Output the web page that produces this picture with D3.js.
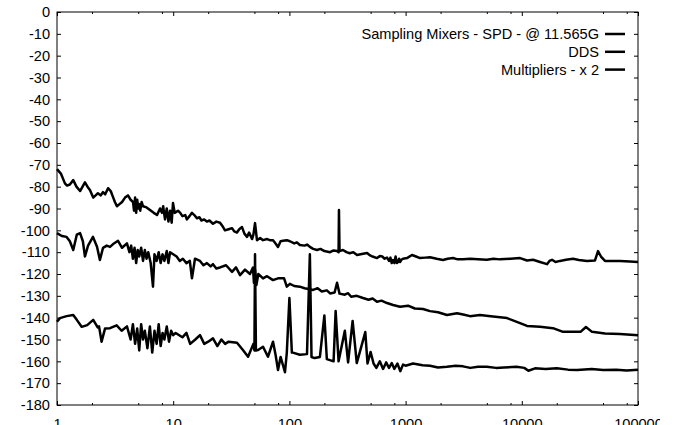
<!DOCTYPE html>
<html>
<head>
<meta charset="utf-8">
<script src="https://cdn.jsdelivr.net/npm/d3@7"></script>
<style>
  body { margin: 0; background: #fff; }
  svg text { font-family: "Liberation Sans", Arial, sans-serif; font-size: 14.6px; fill: #000; }
</style>
</head>
<body>
<svg id="chart" width="675" height="425"></svg>
<script>
// series names, top to bottom in the legend
const seriesNames = ['Sampling Mixers - SPD - @ 11.565G', 'DDS', 'Multipliers - x 2'];

// Sampling Mixers - offset frequency (Hz) and phase noise (dBc/Hz), row by row
const freqMixers = [
  1, 1.08, 1.17, 1.22, 1.29, 1.38, 1.47, 1.58, 1.66, 1.74,
  1.83, 1.92, 2.05, 2.15, 2.25, 2.37, 2.49, 2.6, 2.75, 2.9,
  3.03, 3.15, 3.28, 3.45, 3.63, 3.85, 4.08, 4.3, 4.51, 4.6,
  4.7, 4.8, 4.9, 5.0, 5.1, 5.2, 5.35, 5.5, 5.9, 6.31,
  6.8, 7.26, 7.7, 8.0, 8.2, 8.5, 8.8, 9.1, 9.4, 9.7,
  9.96, 10.3, 11, 11.5, 12, 12.7, 13.1, 13.8, 14.5, 15.2,
  16.0, 16.8, 17.5, 18.5, 19.5, 20.5, 22.0, 23.5, 25.3, 26.5,
  27.9, 30, 32.1, 33.5, 35.4, 37, 39.1, 41, 43.2, 45,
  47.7, 49, 50.6, 52.6, 56, 59.3, 64.2, 68, 72.3, 76,
  79.8, 84, 88.1, 95, 101, 110, 116, 123, 135, 142,
  150, 160, 173, 185, 200, 224, 240, 257, 265, 267,
  270, 289, 310, 330, 355, 382, 420, 466, 495, 520,
  567, 600, 630, 660, 692, 720, 740, 760, 780, 800,
  820, 840, 860, 880, 896, 920, 950, 1028, 1135, 1230,
  1330, 1480, 1622, 1850, 2099, 2300, 2560, 2800, 3120, 3600,
  4200, 5000, 5700, 6490, 8000, 9660, 11090, 12500, 14350, 16480,
  17300, 18200, 19500, 21330, 24000, 27610, 31000, 36400, 42650, 45290,
  48000, 52000, 60000, 70000, 85000, 100000];
const dbMixers = [
  -72, -74, -78.5, -79.5, -79, -77, -80, -82, -80, -78,
  -80, -81.5, -85, -84, -83, -84, -82.5, -83.5, -80.7, -82,
  -84.7, -87, -89, -88, -87, -85, -84, -86, -87, -91,
  -85, -92, -86, -90, -88, -91, -87, -89, -89.5, -90.7,
  -92, -93, -90, -92, -89, -95, -90, -96, -91, -96.5,
  -87.5, -92, -91, -92, -93.5, -93, -95, -93.5, -92, -93,
  -94.5, -94, -95.5, -95, -96, -95.5, -97, -96, -96.5, -98,
  -100, -99.5, -99, -100.5, -101, -99.5, -98.5, -101.5, -103, -101,
  -104, -102, -96.7, -104.5, -103.5, -104.5, -104, -104.5, -104.5, -106,
  -107.6, -105, -104.8, -104.5, -105, -106, -105.5, -106.7, -107, -106.5,
  -107.6, -108.5, -109, -108.5, -109.5, -110, -109.2, -109.5, -110, -90.7,
  -109.5, -109, -110, -110.5, -110, -111.3, -110.8, -110.4, -111.5, -112,
  -112.7, -111.8, -112, -113, -112.5, -114, -112.5, -115, -113.6, -115,
  -112, -115, -114.5, -113, -114.5, -113.5, -113, -112.7, -111.3, -112,
  -112.7, -112.5, -112.3, -113, -113.6, -113, -112.7, -113.3, -113.2, -113,
  -113.2, -113.5, -113, -113.3, -113, -112.7, -113.8, -113.5, -114.5, -115.5,
  -114, -113.5, -114.5, -114, -113.5, -113, -113.6, -114, -113.8, -109.5,
  -112, -114, -114, -114, -114.3, -114.5];

// DDS
const freqDDS = [
  1, 1.1, 1.21, 1.29, 1.38, 1.48, 1.58, 1.67, 1.74, 1.85,
  2.04, 2.21, 2.34, 2.49, 2.68, 2.86, 3.09, 3.35, 3.63, 4.0,
  4.2, 4.35, 4.5, 4.65, 4.8, 4.95, 5.1, 5.3, 5.5, 5.7,
  5.9, 6.1, 6.4, 6.7, 6.9, 7.2, 7.5, 7.8, 8.1, 8.4,
  8.8, 9.1, 9.4, 10.7, 11.4, 12.1, 13.0, 13.9, 14.5, 15.4,
  17.0, 18.2, 19.5, 21, 22, 23.5, 25.3, 28.5, 32.1, 34.7,
  37.6, 41.5, 45.8, 48.6, 49.5, 50.6, 52, 54, 59.3, 64.2,
  72.3, 79.8, 90, 95, 101, 110, 123, 135, 150, 160,
  175, 190, 210, 224, 245, 257, 270, 300, 320, 340,
  380, 430, 480, 520, 567, 620, 692, 780, 896, 1050,
  1200, 1412, 1622, 1900, 2270, 2770, 3200, 3580, 4365, 5650,
  7460, 9660, 11090, 14350, 18550, 22650, 27600, 32000, 35650, 40200,
  52000, 70000, 100000];
const dbDDS = [
  -101.3, -102.6, -103, -105, -109, -102, -101.3, -105, -112, -107,
  -103, -107.5, -113.6, -108, -107, -107.6, -106, -104.8, -108, -106,
  -110, -107, -113, -108, -115, -109, -112, -108, -114, -109,
  -113, -110, -115, -125.8, -111, -114, -110, -115, -111, -114,
  -109.5, -115, -110, -112, -114, -113, -115, -114, -122, -113,
  -114, -116, -115, -116.5, -115.5, -117.5, -117, -116, -119, -117,
  -120.5, -118, -120, -117, -124, -118, -125, -120, -122, -121,
  -122.8, -122, -122, -125.8, -124.5, -125.5, -125.8, -126.5, -127, -127.3,
  -126.5, -128, -127.5, -128.9, -128.5, -124, -129, -129.5, -128.8, -130.4,
  -130, -131, -131.8, -131.2, -132.7, -132.2, -133.3, -134.2, -135, -134.5,
  -135.8, -136, -137, -137.5, -138.8, -138, -138.7, -139.3, -138.8, -139.5,
  -140.2, -142.5, -143.8, -144.2, -144.8, -146.5, -146.5, -146.5, -144.3, -146.5,
  -147.2, -147.5, -148];

// Multipliers - x 2
const freqMult = [
  1, 1.06, 1.21, 1.38, 1.48, 1.63, 1.82, 2.05, 2.24, 2.3,
  2.42, 2.59, 2.86, 3.26, 3.6, 4.0, 4.3, 4.5, 4.7, 4.9,
  5.1, 5.3, 5.5, 5.7, 6.0, 6.3, 6.6, 6.9, 7.2, 7.5,
  7.8, 8.1, 8.4, 8.8, 9.2, 9.6, 10, 10.5, 12, 13,
  14, 15.5, 17, 18.5, 20, 22, 24, 26, 28, 30,
  35.4, 39.8, 44.1, 49, 50, 50.6, 51.5, 53.7, 59.3, 65.4,
  72.3, 76, 79.8, 84, 91.6, 95, 100, 105, 107, 123,
  141.7, 150, 155, 165, 183, 200, 210, 240, 250, 265,
  300, 320, 350, 380, 450, 470, 500, 530, 560, 600,
  640, 680, 720, 760, 800, 850, 900, 950, 1000, 1158,
  1400, 1622, 1900, 2270, 2700, 3120, 3600, 4200, 5000, 6000,
  7000, 9000, 10500, 11400, 13000, 16000, 20000, 25000, 30000, 40000,
  50000, 65000, 80000, 100000];
const dbMult = [
  -141.9, -140.2, -139.3, -138.8, -141, -144.2, -143.4, -141, -144.5, -144,
  -151, -145, -144.8, -143.5, -146, -144, -150, -143, -152, -145,
  -155, -143, -150, -146, -154, -144, -156, -146, -152, -143,
  -153, -147, -150, -144, -151, -146, -148, -147, -149, -147,
  -152, -150, -148, -152, -151, -149.5, -153, -150, -152, -151,
  -151.5, -154.8, -157.9, -152, -155, -111, -155, -154.8, -153.3, -157.9,
  -151, -157, -164, -158, -165, -156, -131, -156, -156, -157,
  -156.7, -111, -158, -158.5, -158, -139, -159, -160, -137, -160,
  -146, -160.5, -141.5, -160.8, -146.6, -161, -155.7, -161, -163, -160,
  -163.5, -160.5, -163, -160.8, -163.5, -161, -164.5, -161.5, -162, -161,
  -161.8, -162, -162.8, -162.5, -162, -162.3, -163, -162.5, -162.5, -163,
  -162.8, -162.5, -163, -164.3, -163.2, -163.5, -163.2, -163.8, -164, -163.5,
  -164, -163.8, -164.2, -163.8];

const yTicks = d3.range(-180, 1, 10);
const xMajor = [1, 10, 100, 1000, 10000, 100000];
const xMinor = [2, 5, 8, 20, 50, 80, 200, 500, 800, 2000, 5000, 8000, 20000, 50000, 80000];

const padL = 57, padR = 638, padT = 12, padB = 405;
const svg = d3.select('#chart');

const x = d3.scaleLog().domain([1, 100000]).range([padL, padR]);
const y = d3.scaleLinear().domain([-180, 0]).range([padB, padT]);

// clip like the original canvas, which cuts the last x label
svg.append('clipPath').attr('id', 'cv')
  .append('rect').attr('x', 0).attr('y', 0).attr('width', 660).attr('height', 425);

const g = svg.append('g').attr('clip-path', 'url(#cv)');

// plain hyphen minus like gnuplot, not the unicode minus of d3.format
const plain = d => String(d);

function styleAxis(sel) {
  sel.select('.domain').remove();
  sel.selectAll('line').attr('stroke', '#000');
  sel.selectAll('text').attr('font-family', null).attr('font-size', null);
}

// left axis with labels, ticks inward
g.append('g').attr('transform', `translate(${padL},0)`)
  .call(d3.axisLeft(y).tickValues(yTicks).tickSize(-4).tickPadding(7).tickFormat(plain))
  .call(styleAxis);
// right mirror
g.append('g').attr('transform', `translate(${padR},0)`)
  .call(d3.axisRight(y).tickValues(yTicks).tickSize(-4).tickFormat(''))
  .call(styleAxis);

// bottom axis
g.append('g').attr('transform', `translate(0,${padB})`)
  .call(d3.axisBottom(x).tickValues(xMajor).tickSize(-4).tickPadding(14).tickFormat(plain))
  .call(styleAxis);
g.append('g').attr('transform', `translate(0,${padB})`)
  .call(d3.axisBottom(x).tickValues(xMinor).tickSize(-2).tickFormat(''))
  .call(styleAxis);
// top mirror
g.append('g').attr('transform', `translate(0,${padT})`)
  .call(d3.axisTop(x).tickValues(xMajor).tickSize(-4).tickFormat(''))
  .call(styleAxis);
g.append('g').attr('transform', `translate(0,${padT})`)
  .call(d3.axisTop(x).tickValues(xMinor).tickSize(-2).tickFormat(''))
  .call(styleAxis);

// frame
g.append('rect')
  .attr('x', padL).attr('y', padT)
  .attr('width', padR - padL).attr('height', padB - padT)
  .attr('fill', 'none').attr('stroke', '#000').attr('stroke-width', 1);

// series lines
const series = [
  { f: freqMixers, v: dbMixers },
  { f: freqDDS, v: dbDDS },
  { f: freqMult, v: dbMult }
];

const line = d3.line()
  .x(d => x(d[0]))
  .y(d => y(d[1]));

series.forEach(s => {
  const pts = s.f.map((f, i) => [f, s.v[i]]);
  g.append('path')
    .datum(pts)
    .attr('d', line)
    .attr('fill', 'none')
    .attr('stroke', '#000')
    .attr('stroke-width', 2.5)
    .attr('stroke-linejoin', 'round');
});

// legend
const legend = g.append('g');
seriesNames.forEach((name, i) => {
  const ly = 34 + i * 17.8;
  legend.append('text')
    .attr('x', 599).attr('y', ly)
    .attr('dy', '0.35em')
    .attr('text-anchor', 'end')
    .text(name);
  legend.append('line')
    .attr('x1', 605).attr('x2', 625)
    .attr('y1', ly).attr('y2', ly)
    .attr('stroke', '#000').attr('stroke-width', 2.5);
});
</script>
</body>
</html>
